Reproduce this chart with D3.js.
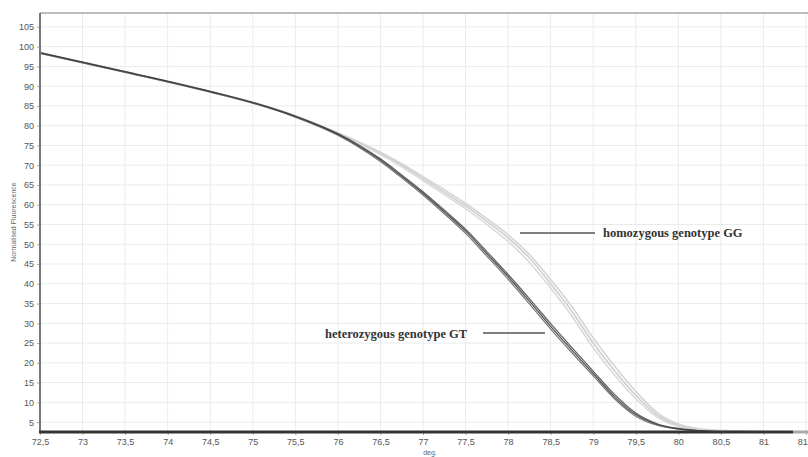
<!DOCTYPE html>
<html>
<head>
<meta charset="utf-8">
<script src="https://cdn.jsdelivr.net/npm/d3@7"></script>
<style>
  body { margin: 0; background: #fff; }
  svg { display: block; }
  .tick text { font-family: "Liberation Sans Narrow", "Liberation Sans", Arial, sans-serif; font-size: 9px; fill: #555; }
  .tick line { stroke: #aaa; }
  .note { font-family: "Liberation Serif", "Times New Roman", serif; font-weight: bold; font-size: 12.5px; fill: #333; }
</style>
</head>
<body>
<svg width="808" height="457"></svg>
<script>
// temperatures (deg.)
var temps = [72.5, 73.5, 74.5, 75, 75.5, 76, 76.25, 76.5, 76.75, 77, 77.25, 77.5, 77.75, 78,
  78.25, 78.5, 78.75, 79, 79.25, 79.5, 79.75, 80, 80.25, 80.5, 81, 81.5];

// heterozygous GT curves (dark bundle)
var het1 = [98.4, 93.6, 88.6, 85.8, 82.3, 77.8, 74.8, 71.3, 67.2, 62.9, 58.2, 53.3, 47.6, 41.8,
  35.6, 29.2, 23.2, 17.3, 11.4, 6.9, 4.4, 3.3, 2.8, 2.6, 2.5, 2.5];
var het2 = [98.3, 93.5, 88.5, 85.7, 82.15, 77.55, 74.5, 70.95, 66.8, 62.45, 57.7, 52.75, 47.0, 41.15,
  34.9, 28.55, 22.55, 16.7, 10.9, 6.5, 4.2, 3.2, 2.75, 2.6, 2.5, 2.5];
var het3 = [98.5, 93.7, 88.7, 85.9, 82.45, 78.0, 75.05, 71.6, 67.55, 63.3, 58.65, 53.8, 48.15, 42.35,
  36.25, 29.9, 23.85, 17.9, 12.0, 7.3, 4.6, 3.4, 2.85, 2.6, 2.5, 2.5];

// homozygous GG curves (light bundle)
var hom1 = [98.4, 93.6, 88.6, 85.8, 82.4, 78.0, 75.7, 73.0, 70.0, 66.6, 63.2, 59.7, 55.8, 51.6,
  46.5, 40.0, 33.0, 25.0, 18.0, 11.8, 6.8, 4.2, 3.2, 2.8, 2.5, 2.5];
var hom2 = [98.3, 93.5, 88.5, 85.7, 82.3, 77.9, 75.4, 72.7, 69.6, 66.1, 62.6, 59.0, 55.0, 50.7,
  45.4, 38.9, 31.8, 23.8, 16.9, 10.9, 6.3, 3.9, 3.0, 2.7, 2.5, 2.5];
var hom3 = [98.5, 93.7, 88.7, 85.9, 82.5, 78.2, 75.9, 73.3, 70.4, 67.1, 63.8, 60.3, 56.5, 52.4,
  47.4, 41.1, 34.2, 26.3, 19.2, 12.8, 7.4, 4.5, 3.3, 2.9, 2.6, 2.5];

var xTicks = [72.5, 73, 73.5, 74, 74.5, 75, 75.5, 76, 76.5, 77, 77.5, 78, 78.5, 79, 79.5, 80, 80.5, 81, 81.5];
var yTicks = d3.range(5, 106, 5);

const svg = d3.select('svg');
const padLeft = 40, padTop = 13, padBottom = 432, padRight = 806;

const x = d3.scaleLinear().domain([72.5, 81.5]).range([padLeft, padRight]);
const y = d3.scaleLinear().domain([2.5, 108.5]).range([padBottom, padTop]);

// grid
svg.append('g').selectAll('line').data(yTicks).enter().append('line')
  .attr('x1', padLeft).attr('x2', 808)
  .attr('y1', d => y(d)).attr('y2', d => y(d))
  .attr('stroke', '#ebebeb');
svg.append('g').selectAll('line').data(xTicks).enter().append('line')
  .attr('x1', d => x(d)).attr('x2', d => x(d))
  .attr('y1', padTop).attr('y2', padBottom)
  .attr('stroke', '#ebebeb');

const fmt = d => String(d).replace('.', ',');

// axes
svg.append('g')
  .attr('transform', 'translate(' + padLeft + ',0)')
  .call(d3.axisLeft(y).tickValues(yTicks).tickSize(3).tickFormat(fmt))
  .call(g => g.select('.domain').remove());
svg.append('g')
  .attr('transform', 'translate(0,' + padBottom + ')')
  .call(d3.axisBottom(x).tickValues(xTicks).tickSize(3).tickPadding(4).tickFormat(fmt))
  .call(g => g.select('.domain').remove());

// curves
const line = d3.line()
  .x((d, i) => x(temps[i]))
  .y(d => y(d))
  .curve(d3.curveMonotoneX);

const homs = [hom1, hom2, hom3];
const hets = [het1, het2, het3];
const homColors = ['#cfcfcf', '#dadada', '#d4d4d4'];
const hetColors = ['#222', '#555', '#3a3a3a'];

svg.append('g').selectAll('path').data(homs).enter().append('path')
  .attr('d', line)
  .attr('fill', 'none')
  .attr('stroke', (d, i) => homColors[i])
  .attr('stroke-width', 1.6);

svg.append('g').selectAll('path').data(hets).enter().append('path')
  .attr('d', line)
  .attr('fill', 'none')
  .attr('stroke', (d, i) => hetColors[i])
  .attr('stroke-width', 1.2)
  .attr('stroke-opacity', 0.8);

// frame
svg.append('line').attr('x1', padLeft).attr('x2', 808).attr('y1', padTop).attr('y2', padTop)
  .attr('stroke', '#bbb').attr('stroke-width', 2);
svg.append('line').attr('x1', padLeft).attr('x2', padLeft).attr('y1', padTop).attr('y2', padBottom)
  .attr('stroke', '#777').attr('stroke-width', 2);
svg.append('line').attr('x1', 793).attr('x2', 808).attr('y1', padBottom).attr('y2', padBottom)
  .attr('stroke', '#aaa').attr('stroke-width', 3);
svg.append('line').attr('x1', padLeft - 1).attr('x2', 793).attr('y1', padBottom).attr('y2', padBottom)
  .attr('stroke', '#333').attr('stroke-width', 3);

// axis titles
svg.append('text')
  .attr('transform', 'translate(16,222) rotate(-90)')
  .attr('text-anchor', 'middle')
  .style('font-family', 'Liberation Sans, Arial, sans-serif')
  .style('font-size', '7px')
  .style('fill', '#666')
  .text('Normalised Fluorescence');
svg.append('text')
  .attr('x', 430).attr('y', 455)
  .attr('text-anchor', 'middle')
  .style('font-family', 'Liberation Sans, Arial, sans-serif')
  .style('font-size', '7px')
  .style('fill', '#666')
  .text('deg.');

// annotations
svg.append('line').attr('x1', 520).attr('x2', 595).attr('y1', 233).attr('y2', 233)
  .attr('stroke', '#555').attr('stroke-width', 1.5);
svg.append('text').attr('class', 'note').attr('x', 603).attr('y', 237)
  .text('homozygous genotype GG');

svg.append('line').attr('x1', 483).attr('x2', 545).attr('y1', 333).attr('y2', 333)
  .attr('stroke', '#555').attr('stroke-width', 1.5);
svg.append('text').attr('class', 'note').attr('x', 325).attr('y', 338)
  .text('heterozygous genotype GT');
</script>
</body>
</html>
